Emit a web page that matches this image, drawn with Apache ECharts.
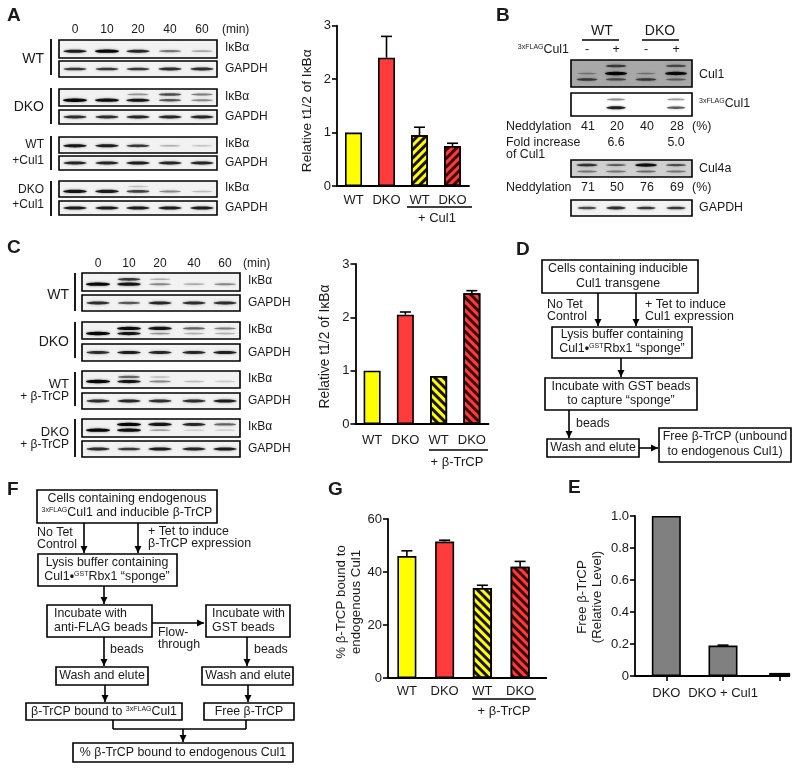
<!DOCTYPE html>
<html>
<head>
<meta charset="utf-8">
<style>html,body{margin:0;padding:0;background:#fff}#main{width:800px;height:770px}</style>
<script src="https://cdn.jsdelivr.net/npm/echarts@6/dist/echarts.min.js"></script>
</head>
<body>
<div id="main"></div>
<script>
// bar panels
const aCats = ['WT', 'DKO', 'WT', 'DKO']
const aValues = [1, 2.4, 0.95, 0.75]
const aErrors = [0, 0.4, 0.15, 0.05]
const cCats = ['WT', 'DKO', 'WT', 'DKO']
const cValues = [1, 2.05, 0.9, 2.45]
const cErrors = [0, 0.05, 0, 0.05]
const gCats = ['WT', 'DKO', 'WT', 'DKO']
const gValues = [46, 51.5, 34, 42]
const gErrors = [2, 0.5, 1, 2]
const eCats = ['DKO', 'DKO + Cul1', '']
const eValues = [1, 0.19, 0.01]
const eErrors = [0, 0.003, 0]

// blot band strengths per lane, read by eye
const minutes = ['0', '10', '20', '40', '60']
const aWtIkba = [0.85, 1, 0.8, 0.4, 0.22]
const aWtGapdh = [0.7, 0.7, 0.7, 0.75, 0.75]
const aDkoIkba = [1, 0.95, 0.9, 0.55, 0.35]
const aDkoIkbaUp = [0, 0, 0.3, 0.6, 0.4]
const aDkoGapdh = [0.75, 0.75, 0.8, 0.8, 0.8]
const aWtCulIkba = [0.9, 0.85, 0.7, 0.2, 0.12]
const aWtCulGapdh = [0.8, 0.8, 0.85, 0.8, 0.8]
const aDkoCulIkba = [0.9, 0.85, 0.65, 0.35, 0.15]
const aDkoCulIkbaUp = [0, 0, 0.12, 0, 0]
const aDkoCulGapdh = [0.85, 0.85, 0.85, 0.85, 0.85]
const cWtIkba = [1, 0.9, 0.35, 0.2, 0.35]
const cWtIkbaUp = [0, 0.7, 0.2, 0, 0]
const cWtGapdh = [0.75, 0.55, 0.8, 0.75, 0.75]
const cDkoIkba = [1, 0.9, 0.3, 0.2, 0.2]
const cDkoIkbaUp = [0, 0.95, 0.9, 0.5, 0.4]
const cDkoGapdh = [0.75, 0.85, 0.8, 0.8, 0.85]
const cWtTrIkba = [1, 0.9, 0.35, 0.15, 0.1]
const cWtTrIkbaUp = [0, 0.5, 0.15, 0, 0]
const cWtTrGapdh = [0.75, 0.8, 0.75, 0.75, 0.85]
const cDkoTrIkba = [1, 0.95, 0.25, 0.1, 0.1]
const cDkoTrIkbaUp = [0, 1, 0.9, 0.8, 0.5]
const cDkoTrGapdh = [0.75, 0.7, 0.85, 0.8, 0.85]
const bCul1Top = [0, 0.6, 0, 0.5]
const bCul1Mid = [0.25, 1, 0.25, 0.95]
const bCul1Low = [0.6, 0.5, 0.6, 0.4]
const bFlagUp = [0, 0.35, 0, 0.3]
const bFlagLow = [0, 0.85, 0, 0.55]
const bCul4Up = [0.7, 0.45, 0.95, 0.55]
const bCul4Low = [0.35, 0.35, 0.4, 0.35]
const bGapdh = [0.6, 0.75, 0.7, 0.7]
const bNedd1 = ['41', '20', '40', '28']
const bFold = ['', '6.6', '', '5.0']
const bNedd2 = ['71', '50', '76', '69']

const FONT = '"Liberation Sans", Arial, sans-serif'
const YELLOW = '#ffff00'
const RED = '#ff3b3b'
const g = []
const rich = {
  n: { fontFamily: FONT, fontSize: 12.4, fill: '#1a1a1a', color: '#1a1a1a' },
  s: { fontFamily: FONT, fontSize: 7, fill: '#1a1a1a', color: '#1a1a1a', verticalAlign: 'top', lineHeight: 13, padding: [0, 0, 3, 0] },
  d: { fontFamily: FONT, fontSize: 12.4, fontWeight: 'bold', fill: '#1a1a1a', color: '#1a1a1a' }
}

function txt(x, y, text, align, size, weight) {
  g.push({
    type: 'text', x, y, z: 20,
    style: {
      text, fill: '#1a1a1a', align: align || 'left', verticalAlign: 'middle',
      textAlign: align || 'left', textVerticalAlign: 'middle',
      font: `${weight || 'normal'} ${size || 12.4}px ${FONT}`, rich
    }
  })
}
function seg(x1, y1, x2, y2, w) {
  g.push({ type: 'line', z: 15, shape: { x1, y1, x2, y2 }, style: { stroke: '#000', lineWidth: w || 1.6 } })
}
function box(x0, y0, x1, y1, fill) {
  g.push({ type: 'rect', z: 12, shape: { x: x0, y: y0, width: x1 - x0, height: y1 - y0 }, style: { fill: fill || '#fff', stroke: '#000', lineWidth: 1.6 } })
}
function arrow(x1, y1, x2, y2) {
  seg(x1, y1, x2, y2)
  const h = 7, s = 3.5
  const pts = x1 === x2
    ? [[x2, y2], [x2 - s, y2 - h], [x2 + s, y2 - h]]
    : [[x2, y2], [x2 - h, y2 - s], [x2 - h, y2 + s]]
  g.push({ type: 'polygon', z: 16, shape: { points: pts }, style: { fill: '#000' } })
}
// one blot strip: bands is a list of [height fraction, strengths]
function blot(x0, y0, x1, y1, lanes, bands, halfW, fill) {
  box(x0, y0, x1, y1, fill || '#f2f2f2')
  bands.forEach(([f, vals]) => {
    vals.forEach((v, i) => {
      if (!v) return
      g.push({
        type: 'ellipse', z: 13,
        shape: { cx: lanes[i], cy: y0 + (y1 - y0) * f, rx: halfW * (0.85 + 0.15 * v), ry: 0.6 + 1.1 * v },
        style: { fill: '#000', opacity: Math.min(1, v * 0.9 + 0.05), shadowBlur: 2.5, shadowColor: 'rgba(0,0,0,.6)' }
      })
    })
  })
}

function blotPanel(left, right, lanes, labelX, barX, sideX, rows) {
  rows.forEach(r => {
    blot(left, r.a[0], right, r.a[1], lanes, r.ikba, 12)
    txt(labelX, (r.a[0] + r.a[1]) / 2 - 1, 'IκBα', 'left', 12)
    blot(left, r.b[0], right, r.b[1], lanes, [[0.5, r.gapdh]], 12)
    txt(labelX, (r.b[0] + r.b[1]) / 2, 'GAPDH', 'left', 12)
    seg(barX, r.bar[0], barX, r.bar[1], 1.8)
    r.side.forEach(([t, y, size]) => txt(sideX, y, t, 'right', size))
  })
}

// panel letters
txt(7, 16, 'A', 'left', 19, 'bold')
txt(496, 16, 'B', 'left', 19, 'bold')
txt(7, 248, 'C', 'left', 19, 'bold')
txt(516, 250, 'D', 'left', 19, 'bold')
txt(7, 490, 'F', 'left', 19, 'bold')
txt(328, 490, 'G', 'left', 19, 'bold')
txt(568, 488, 'E', 'left', 19, 'bold')

// A blots
const aLanes = [75, 107, 138, 170, 202]
minutes.forEach((m, i) => txt(aLanes[i], 30, m, 'center', 12))
txt(222, 30, '(min)', 'left', 12)
blotPanel(59, 217, aLanes, 225, 51, 44, [
  { a: [40, 58], b: [61, 77], ikba: [[0.62, aWtIkba]], gapdh: aWtGapdh, bar: [39, 75], side: [['WT', 59, 14]] },
  { a: [89, 106], b: [110, 124], ikba: [[0.66, aDkoIkba], [0.32, aDkoIkbaUp]], gapdh: aDkoGapdh, bar: [88, 124], side: [['DKO', 107, 14]] },
  { a: [137, 153], b: [156, 170], ikba: [[0.55, aWtCulIkba]], gapdh: aWtCulGapdh, bar: [136, 170], side: [['WT', 145, 12], ['+Cul1', 161, 12]] },
  { a: [181, 197], b: [201, 215], ikba: [[0.65, aDkoCulIkba], [0.35, aDkoCulIkbaUp]], gapdh: aDkoCulGapdh, bar: [181, 216], side: [['DKO', 190, 12], ['+Cul1', 205, 12]] }
])
txt(437, 218, '+ Cul1', 'center', 13)
seg(407, 207, 472, 207, 1.4)

// C blots
const cLanes = [98, 129, 160, 194, 225]
minutes.forEach((m, i) => txt(cLanes[i], 264, m, 'center', 12))
txt(243, 264, '(min)', 'left', 12)
blotPanel(82, 240, cLanes, 248, 75, 69, [
  { a: [273, 291], b: [295, 311], ikba: [[0.62, cWtIkba], [0.35, cWtIkbaUp]], gapdh: cWtGapdh, bar: [273, 311], side: [['WT', 295, 14]] },
  { a: [322, 339], b: [344, 361], ikba: [[0.68, cDkoIkba], [0.38, cDkoIkbaUp]], gapdh: cDkoGapdh, bar: [322, 358], side: [['DKO', 342, 14]] },
  { a: [371, 388], b: [393, 409], ikba: [[0.62, cWtTrIkba], [0.35, cWtTrIkbaUp]], gapdh: cWtTrGapdh, bar: [372, 406], side: [['WT', 384, 13], ['+ β-TrCP', 397, 12]] },
  { a: [419, 437], b: [441, 457], ikba: [[0.62, cDkoTrIkba], [0.3, cDkoTrIkbaUp]], gapdh: cDkoTrGapdh, bar: [419, 457], side: [['DKO', 432, 13], ['+ β-TrCP', 445, 12]] }
])
txt(457, 462, '+ β-TrCP', 'center', 13)
seg(429, 450, 488, 450, 1.4)

// B blots
const bLanes = [587, 616, 646, 676]
txt(602, 31, 'WT', 'center', 14)
seg(582, 40, 619, 40, 1.6)
txt(660, 31, 'DKO', 'center', 14)
seg(642, 40, 679, 40, 1.6)
txt(569, 50, '{s|3xFLAG}{n|Cul1}', 'right')
;['-', '+', '-', '+'].forEach((m, i) => txt(bLanes[i], 50, m, 'center'))
blot(571, 60, 692, 87, bLanes, [[0.22, bCul1Top], [0.5, bCul1Mid], [0.72, bCul1Low]], 11, '#a8a8a8')
txt(699, 75, 'Cul1')
blot(571, 93, 692, 116, bLanes, [[0.28, bFlagUp], [0.64, bFlagLow]], 10, '#fff')
txt(699, 104, '{s|3xFLAG}{n|Cul1}')
txt(506, 127, 'Neddylation')
bNedd1.forEach((t, i) => txt(bLanes[i] + 1, 127, t, 'center'))
txt(692, 127, '(%)')
txt(506, 143, 'Fold increase')
txt(506, 155, 'of Cul1')
bFold.forEach((t, i) => txt(bLanes[i], 143, t, 'center'))
blot(571, 160, 692, 177, bLanes, [[0.3, bCul4Up], [0.68, bCul4Low]], 11, '#d0d0d0')
txt(699, 169, 'Cul4a')
txt(506, 188, 'Neddylation')
bNedd2.forEach((t, i) => txt(bLanes[i] + 1, 188, t, 'center'))
txt(692, 188, '(%)')
blot(571, 200, 692, 216, bLanes, [[0.5, bGapdh]], 10)
txt(699, 208, 'GAPDH')

// D flow chart
box(542, 260, 698, 293)
txt(618, 269, 'Cells containing inducible', 'center')
txt(618, 284, 'Cul1 transgene', 'center')
arrow(598, 293, 598, 326)
arrow(636, 293, 636, 326)
txt(547, 305, 'No Tet')
txt(547, 317, 'Control')
txt(645, 305, '+ Tet to induce')
txt(645, 317, 'Cul1 expression')
box(552, 327, 692, 358)
txt(622, 335, 'Lysis buffer containing', 'center')
txt(622, 349, '{n|Cul1}{d|•}{s|GST}{n|Rbx1 “sponge”}', 'center')
arrow(621, 358, 621, 377)
box(545, 378, 697, 410)
txt(621, 387, 'Incubate with GST beads', 'center')
txt(621, 401, 'to capture “sponge”', 'center')
arrow(569, 410, 569, 438)
txt(576, 424, 'beads')
box(547, 439, 639, 457)
txt(593, 448, 'Wash and elute', 'center')
arrow(639, 448, 658, 448)
box(659, 428, 791, 462)
txt(725, 437, 'Free β-TrCP (unbound', 'center')
txt(725, 452, 'to endogenous Cul1)', 'center')

// F flow chart
box(37, 490, 217, 523)
txt(127, 499, 'Cells containing endogenous', 'center')
txt(127, 513, '{s|3xFLAG}{n|Cul1 and inducible β-TrCP}', 'center')
arrow(84, 523, 84, 553)
arrow(138, 523, 138, 553)
txt(37, 533, 'No Tet')
txt(37, 545, 'Control')
txt(148, 532, '+ Tet to induce')
txt(148, 544, 'β-TrCP expression')
box(38, 554, 177, 586)
txt(107, 563, 'Lysis buffer containing', 'center')
txt(107, 577, '{n|Cul1}{d|•}{s|GST}{n|Rbx1 “sponge”}', 'center')
arrow(104, 586, 104, 604)
box(47, 605, 152, 637)
txt(54, 614, 'Incubate with')
txt(54, 628, 'anti-FLAG beads')
arrow(152, 623, 204, 623)
txt(158, 633, 'Flow-')
txt(158, 645, 'through')
box(206, 605, 290, 637)
txt(212, 614, 'Incubate with')
txt(212, 628, 'GST beads')
arrow(104, 637, 104, 666)
txt(110, 650, 'beads')
arrow(247, 637, 247, 666)
txt(254, 650, 'beads')
box(56, 667, 148, 685)
txt(102, 676, 'Wash and elute', 'center')
box(202, 667, 293, 685)
txt(248, 676, 'Wash and elute', 'center')
arrow(105, 685, 105, 702)
arrow(248, 685, 248, 702)
box(26, 703, 182, 720)
txt(104, 712, '{n|β-TrCP bound to }{s|3xFLAG}{n|Cul1}', 'center')
box(204, 703, 294, 720)
txt(249, 712, 'Free β-TrCP', 'center')
seg(113, 720, 113, 729)
seg(113, 729, 246, 729)
seg(246, 720, 246, 729)
arrow(183, 729, 183, 742)
box(73, 743, 293, 762)
txt(183, 753, '% β-TrCP bound to endogenous Cul1', 'center')

// bars + labels under G share the underline
seg(472, 699, 536, 699, 1.4)
txt(504, 711, '+ β-TrCP', 'center', 13)
seg(388, 678, 547, 678, 1.8) // baseline runs past the last band
seg(635, 676, 790, 676, 1.8)

function hatch(color, rot) {
  return {
    color,
    borderColor: '#000',
    borderWidth: 1.6,
    decal: { symbol: 'rect', color: color === YELLOW ? '#1a1200' : '#3d0808', dashArrayX: [1, 0], dashArrayY: [2.4, 3], rotation: rot, symbolSize: 1 }
  }
}
function barItems(values, styles) {
  return values.map((v, i) => ({ value: v, itemStyle: styles[i] }))
}
function plain(color) {
  return { color, borderColor: '#000', borderWidth: 1.6 }
}
function errData(values, errors) {
  return values.map((v, i) => [i, v, v + errors[i], errors[i]])
}
function errRender(params, api) {
  if (!api.value(3)) return null
  const lo = api.coord([api.value(0), api.value(1)])
  const hi = api.coord([api.value(0), api.value(2)])
  const st = { stroke: '#000', lineWidth: 1.6 }
  return {
    type: 'group',
    children: [
      { type: 'line', shape: { x1: lo[0], y1: lo[1], x2: hi[0], y2: hi[1] }, style: st },
      { type: 'line', shape: { x1: hi[0] - 5.5, y1: hi[1], x2: hi[0] + 5.5, y2: hi[1] }, style: st }
    ]
  }
}
// last E bar: narrower and heavier than the other two
function thinBarRender(params, api) {
  const top = api.coord([api.value(0), api.value(1)])
  const base = api.coord([api.value(0), 0])
  return {
    type: 'rect',
    shape: { x: top[0] - 10.5, y: top[1] - 1.5, width: 21, height: base[1] - top[1] + 1.5 },
    style: { fill: '#000' }
  }
}
function xAx(idx, cats, margin, ticks, showLine) {
  return {
    type: 'category', gridIndex: idx, data: cats,
    axisLine: { show: showLine, onZero: false, lineStyle: { color: '#000', width: 1.8 } },
    axisTick: { show: ticks, alignWithLabel: true, length: 5, lineStyle: { color: '#000', width: 1.6 } },
    axisLabel: { color: '#1a1a1a', fontFamily: FONT, fontSize: 13, margin, interval: 0 }
  }
}
function yAx(idx, max, interval, name, gap, nameSize, namePad, fmt, offset) {
  return {
    type: 'value', gridIndex: idx, min: 0, max, interval, name,
    nameLocation: 'middle', nameGap: gap, offset: offset || 0,
    nameTextStyle: { color: '#1a1a1a', fontFamily: FONT, fontSize: nameSize, lineHeight: 15, padding: [0, namePad, 0, 0] },
    splitLine: { show: false },
    axisLine: { show: true, lineStyle: { color: '#000', width: 1.8 } },
    axisTick: { show: true, length: 5, lineStyle: { color: '#000', width: 1.6 } },
    axisLabel: { color: '#1a1a1a', fontFamily: FONT, fontSize: 13, margin: 6, formatter: fmt }
  }
}
function barSeries(idx, values, errors, styles, width) {
  return [
    { type: 'bar', xAxisIndex: idx, yAxisIndex: idx, barWidth: width, data: barItems(values, styles), silent: true, animation: false },
    {
      type: 'custom', xAxisIndex: idx, yAxisIndex: idx, data: errData(values, errors), renderItem: errRender,
      encode: { x: 0, y: [1, 2] }, silent: true, animation: false, clip: false, z: 1
    }
  ]
}

const chart = echarts.init(document.getElementById('main'), null, { renderer: 'canvas' })
chart.setOption({
  animation: false,
  backgroundColor: '#fff',
  aria: { enabled: false },
  grid: [
    { left: 337, top: 25.7, width: 132, height: 160.3, outerBoundsMode: 'none' },
    { left: 355.5, top: 264, width: 133, height: 160, outerBoundsMode: 'none' },
    { left: 388, top: 519, width: 151, height: 159, outerBoundsMode: 'none' },
    { left: 638, top: 516, width: 170, height: 160, outerBoundsMode: 'none' }
  ],
  xAxis: [
    xAx(0, aCats, 8, false, true),
    xAx(1, cCats, 10, false, true),
    xAx(2, gCats, 7, false, false),
    xAx(3, eCats, 11, true, false)
  ],
  yAxis: [
    yAx(0, 3, 1, 'Relative t1/2 of IκBα', 22, 13.7, 10),
    yAx(1, 3, 1, 'Relative t1/2 of IκBα', 23, 13.8, 5),
    yAx(2, 60, 20, '% β-TrCP bound to\nendogenous Cul1', 22, 13.3, 7),
    yAx(3, 1, 0.2, 'Free β-TrCP\n(Relative Level)', 30, 13.3, 2, v => v === 0 ? '0' : v.toFixed(1), 3)
  ],
  series: [
    ...barSeries(0, aValues, aErrors, [plain(YELLOW), plain(RED), hatch(YELLOW, -Math.PI / 4), hatch(RED, -Math.PI / 4)], 17),
    ...barSeries(1, cValues, cErrors, [plain(YELLOW), plain(RED), hatch(YELLOW, Math.PI / 4), hatch(RED, Math.PI / 4)], 17),
    ...barSeries(2, gValues, gErrors, [plain(YELLOW), plain(RED), hatch(YELLOW, Math.PI / 4), hatch(RED, Math.PI / 4)], 19),
    ...barSeries(3, [eValues[0], eValues[1], '-'], eErrors, [plain('#808080'), plain('#808080'), {}], 29),
    {
      type: 'custom', xAxisIndex: 3, yAxisIndex: 3, renderItem: thinBarRender, clip: false, silent: true, animation: false,
      encode: { x: 0, y: 1 }, data: [[2, eValues[2]]]
    }
  ],
  graphic: { elements: g }
})
</script>
</body>
</html>
